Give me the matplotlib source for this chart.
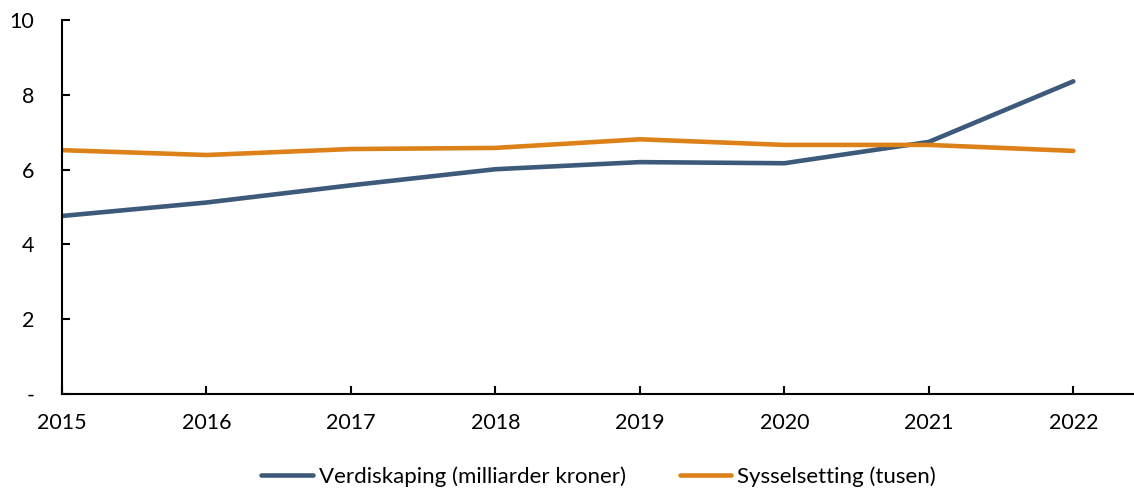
import matplotlib.pyplot as plt

years = [2015, 2016, 2017, 2018, 2019, 2020, 2021, 2022]
verdiskaping = [4.76, 5.12, 5.58, 6.01, 6.20, 6.17, 6.74, 8.36]
sysselsetting = [6.52, 6.39, 6.55, 6.58, 6.81, 6.66, 6.66, 6.50]
yticks = [0, 2, 4, 6, 8, 10]
ylabels = ["-", "2", "4", "6", "8", "10"]

plt.rcParams['font.family'] = ['Lato', 'DejaVu Sans']

fig = plt.figure(figsize=(11.34, 4.9), dpi=100)
ax = fig.add_axes([62 / 1134, 96 / 490, 1 - 62 / 1134, 374 / 490])

ax.plot(years, verdiskaping, color='#3d5a7a', lw=3.3, solid_capstyle='round',
        label='Verdiskaping (milliarder kroner)')
ax.plot(years, sysselsetting, color='#dc8218', lw=3.3, solid_capstyle='round',
        label='Sysselsetting (tusen)')

ax.set_xlim(2015, 2022.42)
ax.set_ylim(0, 10)
ax.set_xticks(years)
ax.set_yticks(yticks)
ax.set_yticklabels(ylabels)

for s in ['top', 'right']:
    ax.spines[s].set_visible(False)
for s in ['left', 'bottom']:
    ax.spines[s].set_linewidth(1.5)

ax.tick_params(axis='y', direction='in', length=6, width=1.5, pad=20, labelsize=15.5)
ax.tick_params(axis='x', direction='in', length=6, width=1.5, pad=14, labelsize=15.5)

fig.legend(loc='lower center', bbox_to_anchor=(0.528, -0.035), ncol=2, frameon=False,
           fontsize=16, handlelength=2.3, handletextpad=0.3, columnspacing=2.4)

fig.savefig('out.png', dpi=100)
